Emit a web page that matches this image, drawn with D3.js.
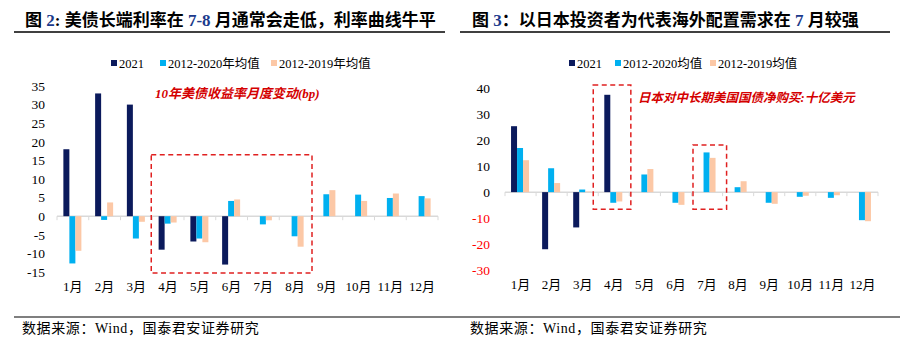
<!DOCTYPE html>
<html>
<head>
<meta charset="utf-8">
<script src="https://cdn.jsdelivr.net/npm/d3@7"></script>
<style>
  body { margin: 0; background: #fff; }
  svg { display: block; }
  text { font-family: "Liberation Serif", "Noto Sans CJK SC", serif; }
</style>
</head>
<body>
<div id="chart"></div>
<script>
// Meses comunes a ambos gráficos
const months = ["1月", "2月", "3月", "4月", "5月", "6月", "7月", "8月", "9月", "10月", "11月", "12月"];

// Gráfico izquierdo: variación mensual del rendimiento del bono a 10 años (bp)
const bond2021 = [18, 33, 30, -9, -6.8, -13, null, null, null, null, null, null];
const bondAvg1220 = [-12.7, -1, -6, -2, -6, 4.1, -2.2, -5.4, 5.9, 5.8, 4.9, 5.4];
const bondAvg1219 = [-9.3, 3.7, -1.5, -1.7, -7, 4.5, -1.1, -8.2, 7, 4.1, 6.1, 4.8];
const bondTicks = [-15, -10, -5, 0, 5, 10, 15, 20, 25, 30, 35];

// Gráfico derecho: compras netas de Japón de bonos del Tesoro (miles de millones USD)
const jp2021 = [25.4, -22, -13.6, 37.5, null, null, null, null, null, null, null, null];
const jpAvg1220 = [17, 9.2, 1, -4.1, 6.8, -4.1, 15.3, 1.9, -4.1, -1.8, -2.2, -10.8];
const jpAvg1219 = [12.3, 3.5, 0.2, -3.6, 8.9, -4.9, 13.2, 4.2, -4.5, -1.4, -1.2, -11.2];
const jpTicks = [-30, -20, -10, 0, 10, 20, 30, 40];

const colors = ["#0b1a5c", "#00b0f0", "#fcc8a6"];

const svg = d3.select("#chart")
  .append("svg")
  .attr("width", 909)
  .attr("height", 341);

// Títulos con la línea inferior
function drawTitle(x0, x1, tx, parts) {
  const t = svg.append("text")
    .attr("x", tx)
    .attr("y", 26)
    .attr("font-size", 17)
    .attr("font-weight", "bold");
  parts.forEach(p => {
    t.append("tspan").attr("fill", p[1] ? "#1b3a8c" : "#000").text(p[0]);
  });
  svg.append("line")
    .attr("x1", x0).attr("x2", x1)
    .attr("y1", 32).attr("y2", 32)
    .attr("stroke", "#000").attr("stroke-width", 1.5);
}

drawTitle(14, 445, 25, [["图 ", 0], ["2", 1], [": 美债长端利率在 ", 0], ["7-8", 1], [" 月通常会走低，利率曲线牛平", 0]]);
drawTitle(460, 890, 472, [["图 ", 0], ["3", 1], ["：以日本投资者为代表海外配置需求在 ", 0], ["7", 1], [" 月较强", 0]]);

// Pie de página
svg.append("line")
  .attr("x1", 14).attr("x2", 900)
  .attr("y1", 317).attr("y2", 317)
  .attr("stroke", "#000").attr("stroke-width", 1.2);
[22, 470].forEach(x => {
  svg.append("text")
    .attr("x", x).attr("y", 333)
    .attr("font-size", 14)
    .attr("letter-spacing", 0.6)
    .text("数据来源：Wind，国泰君安证券研究");
});

// Dibuja un gráfico de barras agrupadas
function drawChart(cfg) {
  const g = svg.append("g");
  const series = [cfg.s1, cfg.s2, cfg.s3];

  const xScale = d3.scaleBand()
    .domain(months)
    .range([cfg.x0, cfg.x1])
    .padding(0);

  const yScale = d3.scaleLinear()
    .domain(cfg.domain)
    .range([cfg.yBottom, cfg.yTop]);

  const inner = d3.scaleBand()
    .domain([0, 1, 2])
    .range([0, 18]);

  const offset = (xScale.bandwidth() - 18) / 2 - 0.5;

  // Eje Y sin línea
  const yAxis = g.append("g")
    .attr("transform", `translate(${cfg.labelX},0)`)
    .call(d3.axisLeft(yScale).tickValues(cfg.ticks).tickSize(0).tickFormat(d => String(d)));
  yAxis.select(".domain").remove();
  yAxis.selectAll("text")
    .attr("font-family", "Liberation Serif, serif")
    .attr("font-size", 13.5)
    .attr("fill", d => (cfg.redNeg && d < 0) ? "#ff0000" : "#000");

  // Línea del cero con marcas entre categorías
  const zeroY = yScale(0);
  g.append("line")
    .attr("x1", cfg.x0).attr("x2", cfg.x1)
    .attr("y1", zeroY).attr("y2", zeroY)
    .attr("stroke", "#d9d9d9").attr("stroke-width", 1.5);
  g.selectAll(".tk")
    .data(d3.range(13))
    .enter()
    .append("line")
    .attr("class", "tk")
    .attr("x1", i => cfg.x0 + i * xScale.step())
    .attr("x2", i => cfg.x0 + i * xScale.step())
    .attr("y1", zeroY).attr("y2", zeroY + 4)
    .attr("stroke", "#d9d9d9").attr("stroke-width", 1);

  // Barras
  series.forEach((vals, si) => {
    g.selectAll(`.bar${si}`)
      .data(vals.map((v, i) => ({ m: months[i], v })).filter(d => d.v !== null))
      .enter()
      .append("rect")
      .attr("class", `bar${si}`)
      .attr("x", d => xScale(d.m) + offset + inner(si))
      .attr("y", d => yScale(Math.max(0, d.v)))
      .attr("width", inner.bandwidth())
      .attr("height", d => Math.abs(yScale(d.v) - yScale(0)))
      .attr("fill", colors[si]);
  });

  // Etiquetas del eje X
  g.selectAll(".mlab")
    .data(months)
    .enter()
    .append("text")
    .attr("class", "mlab")
    .attr("x", d => xScale(d) + xScale.bandwidth() / 2)
    .attr("y", cfg.yBottom + 19)
    .attr("text-anchor", "middle")
    .attr("font-size", 13)
    .text(d => d);

  // Recuadros discontinuos
  cfg.boxes.forEach(b => {
    const bx0 = xScale(b.from) - b.padL;
    const bx1 = xScale(b.to) + xScale.bandwidth() + b.padR;
    g.append("rect")
      .attr("x", bx0)
      .attr("y", yScale(b.top))
      .attr("width", bx1 - bx0)
      .attr("height", yScale(b.bottom) - yScale(b.top))
      .attr("fill", "none")
      .attr("stroke", "#e02020")
      .attr("stroke-width", 1.5)
      .attr("stroke-dasharray", "5,3.5");
  });

  // Nota en rojo
  g.append("text")
    .attr("x", cfg.noteX).attr("y", cfg.noteY)
    .attr("font-size", cfg.noteSize)
    .attr("font-weight", "bold")
    .attr("font-style", "italic")
    .attr("fill", "#d40000")
    .text(cfg.note);

  // Leyenda
  const leg = g.append("g");
  cfg.legend.forEach((l, i) => {
    leg.append("rect")
      .attr("x", l.x).attr("y", 60)
      .attr("width", 6).attr("height", 6)
      .attr("fill", colors[i]);
    leg.append("text")
      .attr("x", l.x + 8).attr("y", 67.5)
      .attr("font-size", 12.5)
      .text(l.label);
  });
}

drawChart({
  s1: bond2021, s2: bondAvg1220, s3: bondAvg1219,
  x0: 57, x1: 438, yTop: 86, yBottom: 272,
  domain: [-15, 35], ticks: bondTicks, labelX: 48, redNeg: false,
  boxes: [{ from: "4月", to: "8月", top: 16.5, bottom: -15.3, padL: 1, padR: 1 }],
  note: "10年美债收益率月度变动(bp)", noteX: 155, noteY: 98, noteSize: 13,
  legend: [
    { x: 111, label: "2021" },
    { x: 160, label: "2012-2020年均值" },
    { x: 271, label: "2012-2019年均值" }
  ]
});

drawChart({
  s1: jp2021, s2: jpAvg1220, s3: jpAvg1219,
  x0: 505, x1: 878, yTop: 88.3, yBottom: 270,
  domain: [-30, 40], ticks: jpTicks, labelX: 493, redNeg: true,
  boxes: [
    { from: "4月", to: "4月", top: 41.3, bottom: -6.6, padL: 5, padR: 1.5 },
    { from: "7月", to: "7月", top: 18.2, bottom: -6.6, padL: -1.5, padR: 4 }
  ],
  note: "日本对中长期美国国债净购买:十亿美元", noteX: 638, noteY: 102, noteSize: 12.5,
  legend: [
    { x: 569, label: "2021" },
    { x: 615, label: "2012-2020均值" },
    { x: 710, label: "2012-2019均值" }
  ]
});
</script>
</body>
</html>
